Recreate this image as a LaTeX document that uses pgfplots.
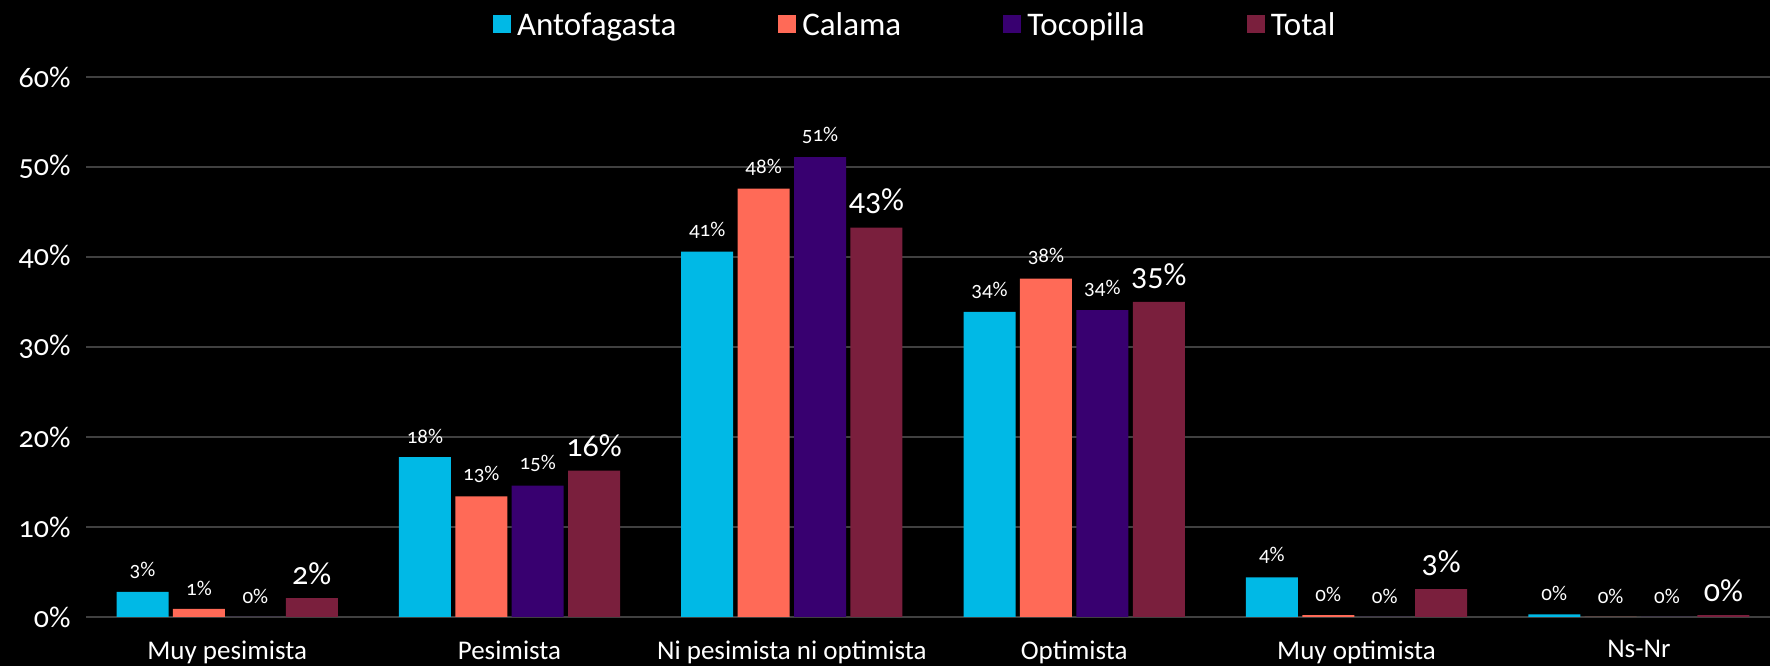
\documentclass[border=0pt]{standalone}
\usepackage{pgfplots}
\pgfplotsset{compat=1.18}
\usepackage{fontspec}
\setmainfont{Carlito}[Numbers=OldStyle]

\definecolor{cAnto}{HTML}{00B9E6}
\definecolor{cCala}{HTML}{FF6A57}
\definecolor{cToco}{HTML}{380070}
\definecolor{cTotal}{HTML}{7A1F3D}
\definecolor{cGrid}{HTML}{404040}

\newcommand{\fs}[1]{\fontsize{#1}{#1}\selectfont}

\begin{document}
\begin{tikzpicture}
\fill[black] (0,0) rectangle (1770pt,666pt);
\useasboundingbox (0,0) rectangle (1770pt,666pt);

%%%%%%%%%%%%%%%%%%%%%%%%%%% Axes %%%%%%%%%%%%%%%%%%%%%%%%%%%
\begin{axis}[
  at={(86pt,49pt)}, anchor=south west,
  width=1694pt, height=540pt, scale only axis,
  ybar=4.4pt, bar width=52pt,
  xmin=-0.5, xmax=5.5, ymin=0, ymax=60,
  xtick={0,...,5},
  xticklabels={Muy pesimista,Pesimista,Ni pesimista ni optimista,Optimista,Muy optimista,Ns-Nr},
  ytick={0,10,...,60},
  yticklabel={\pgfmathprintnumber{\tick}\%},
  /pgf/number format/assume math mode=true,
  major tick length=0pt,
  axis line style={draw=none},
  ymajorgrids=true,
  grid style={cGrid, line width=1.3pt},
  xticklabel style={text=white, font=\fs{27}, yshift=-20pt},
  yticklabel style={text=white, font=\fs{30}, xshift=-12pt},
  clip=false,
  nodes near coords={\pgfmathprintnumber[fixed,precision=0]{\pgfplotspointmeta}\%},
  every node near coord/.append style={text=white, font=\fs{21}, yshift=10pt},
  legend columns=4,
  legend style={at={(0.4895,1)}, anchor=south, yshift=36pt,
    draw=none, fill=none, text=white, font=\fs{33},
    /tikz/every even column/.append style={column sep=100pt}},
  legend image code/.code={\fill[#1] (0pt,-8pt) rectangle (18pt,10pt);},
  legend cell align=left,
]

\addplot[fill=cAnto, draw=none] coordinates {(0,2.8) (1,17.75) (2,40.6) (3,33.9) (4,4.4) (5,0.3)};
\addlegendentry{\hspace{4pt}Antofagasta}

\addplot[fill=cCala, draw=none] coordinates {(0,0.9) (1,13.4) (2,47.6) (3,37.6) (4,0.2) (5,0)};
\addlegendentry{\hspace{4pt}Calama}

\addplot[fill=cToco, draw=none] coordinates {(0,0) (1,14.6) (2,51.1) (3,34.1) (4,0) (5,0)};
\addlegendentry{\hspace{4pt}Tocopilla}

\addplot[fill=cTotal, draw=none, every node near coord/.append style={font=\fs{32}}]
  coordinates {(0,2.1) (1,16.25) (2,43.25) (3,35.0) (4,3.1) (5,0.2)};
\addlegendentry{\hspace{4pt}Total}

\end{axis}
\end{tikzpicture}
\end{document}
